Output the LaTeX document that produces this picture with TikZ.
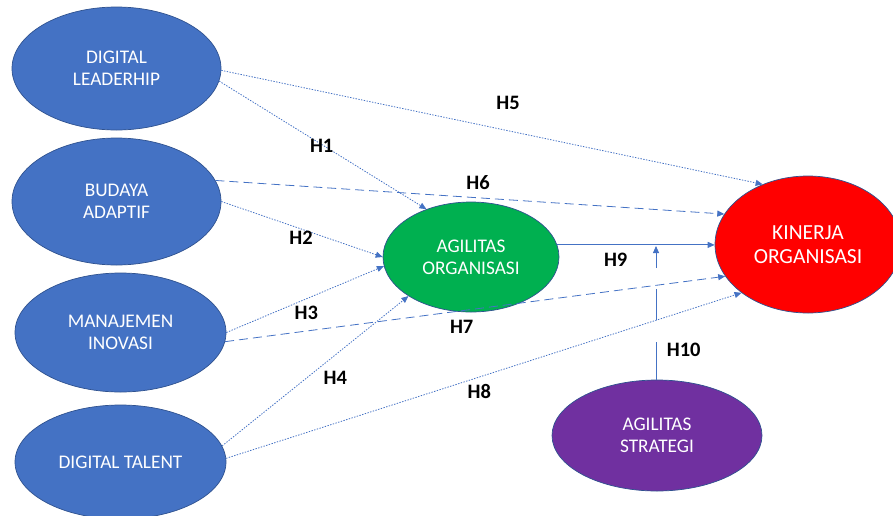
\documentclass[tikz,border=0pt]{standalone}
\usepackage{fontspec}
\setmainfont{Carlito}
\usetikzlibrary{arrows.meta,shapes.geometric}
\definecolor{obl}{HTML}{4472C4}
\definecolor{obd}{HTML}{2F528F}
\definecolor{ogr}{HTML}{00B050}
\definecolor{ored}{HTML}{FF0000}
\definecolor{opu}{HTML}{7030A0}
\tikzset{
  oval/.style={ellipse, draw=obd, line width=0.7pt, inner sep=0pt, text=white, align=center,
     font=\fontsize{19.3}{22}\selectfont},
  conn/.style={draw=obl, line width=0.8pt},
  tip/.style={-{Triangle[length=7pt,width=6pt]}},
  dots/.style={dash pattern=on 1.4pt off 1.4pt},
  dashes/.style={dash pattern=on 9pt off 5pt},
  hlab/.style={font=\fontsize{20.5}{22}\selectfont\bfseries, text=black, inner sep=1pt}
}
\begin{document}
\begin{tikzpicture}[x=1pt,y=-1pt]
\useasboundingbox (0,0) rectangle (893,515);
% nodes
\node[oval, fill=obl, minimum width=209pt, minimum height=123pt] (dl) at (116.5,68.5) {DIGITAL\\LEADERHIP};
\node[oval, fill=obl, minimum width=209pt, minimum height=127pt] (ba) at (116.5,201.5) {BUDAYA\\ADAPTIF};
\node[oval, fill=obl, minimum width=211pt, minimum height=119pt] (mi) at (120.5,332.5) {MANAJEMEN\\INOVASI};
\node[oval, fill=obl, minimum width=211pt, minimum height=114pt] (dt) at (120.5,462) {DIGITAL TALENT};
\node[oval, fill=ogr, minimum width=176pt, minimum height=110pt] (ao) at (471,257) {AGILITAS\\ORGANISASI};
\node[oval, fill=ored, minimum width=186pt, minimum height=137pt, font=\fontsize{21.5}{23.5}\selectfont] (ko) at (808,244.5) {KINERJA\\ORGANISASI};
\node[oval, fill=opu, minimum width=210pt, minimum height=111pt] (as) at (657,435.5) {AGILITAS\\STRATEGI};
% connectors
\draw[conn, dots, tip] (dl.-1) -- (ko.127);
\draw[conn, dots, tip] (dl.-7.5) -- (ao.133);
\draw[conn, dashes, tip] (ba.12) -- (ko.160);
\draw[conn, dots, tip] (ba.0) -- (ao.180);
\draw[conn, dots, tip] (mi.0) -- (ao.186);
\draw[conn, dashes, tip] (mi.-5.6) -- (ko.201.5);
\draw[conn, dots, tip] (dt.9.7) -- (ao.212.6);
\draw[conn, dots, tip] (dt.2.7) -- (ko.216.9);
\draw[conn, tip] (ao.8) -- (ao.8 -| ko.west);
% moderation
\coordinate (m1) at (656,342);
\coordinate (m2) at (656,320);
\coordinate (m3) at (656,289);
\coordinate (m4) at (656,268);
\coordinate (m5) at (656,246);
\draw[conn] (as.north -| m1) -- (m1);
\draw[conn] (m2) -- (m3);
\draw[conn, tip] (m4) -- (m5);
% labels
\node[hlab] (h1) at (321.7,146.3) {H1};
\node[hlab] (h2) at (301,238) {H2};
\node[hlab] (h3) at (306.3,313.3) {H3};
\node[hlab] (h4) at (335.3,378.3) {H4};
\node[hlab] (h5) at (508,103) {H5};
\node[hlab] (h6) at (478,183) {H6};
\node[hlab] (h7) at (461.7,327.3) {H7};
\node[hlab] (h8) at (479.3,391) {H8};
\node[hlab] (h9) at (615.7,259.3) {H9};
\node[hlab] (h10) at (683.7,350) {H10};
\end{tikzpicture}
\end{document}
